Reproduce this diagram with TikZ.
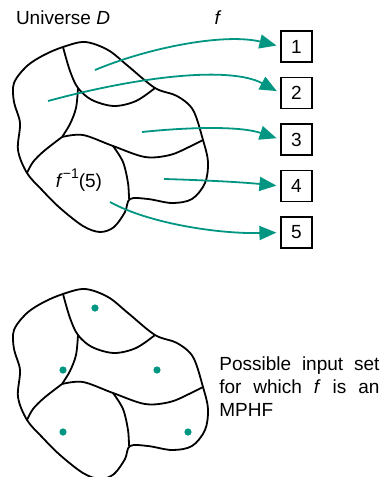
\documentclass[tikz,border=0pt]{standalone}
\usepackage{fontspec}
\setmainfont{Liberation Sans}
\usetikzlibrary{arrows.meta}
\definecolor{teal}{RGB}{0,150,130}
\begin{document}
\begin{tikzpicture}[x=0.5pt,y=-0.5pt,
  every node/.style={font=\fontsize{9.5}{11.7}\selectfont},
  outline/.style={line width=0.9pt,line join=round},
  maparrow/.style={teal,line width=0.9pt,-{Triangle[length=8.5pt,width=7pt]},shorten >=2pt},
  valbox/.style={draw,line width=0.6pt,minimum size=15.5pt,inner sep=0pt},
  keydot/.style={circle,fill=teal,inner sep=0pt,minimum size=3.6pt}]
\useasboundingbox (0,0) rectangle (383,477);
\newcommand{\blobshape}{%
  \draw[outline] plot[smooth cycle,tension=0.55] coordinates {(63,47) (85,42) (108,50) (128,66) (155,88) (177,96) (193,110) (203,140) (208,162) (205,183) (192,199) (172,203) (148,199) (130,199) (125,212) (114,227) (100,232) (83,226) (60,208) (42,190) (27,173) (18,150) (20,123) (14,102) (14,83) (27,66) (44,55)};
  \draw[outline] plot[smooth,tension=0.55] coordinates {(63,47) (70,71) (78,88) (92,100) (114,106) (136,101) (155,88)};
  \draw[outline] plot[smooth,tension=0.55] coordinates {(78,88) (76,108) (70,124) (62,137)};
  \draw[outline] plot[smooth,tension=0.55] coordinates {(62,137) (83,135) (113,146) (145,157) (170,155) (189,147) (203,140)};
  \draw[outline] plot[smooth,tension=0.55] coordinates {(113,146) (123,162) (128,183) (129,199)};
  \draw[outline] plot[smooth,tension=0.55] coordinates {(62,137) (44,151) (33,162) (27,173)};
}
% top blob
\blobshape
\node (univ) at (63,18) {Universe \textit{D}};
\node (fl) at (218,18) {\textit{f}};
\node (inv) at (79,180) {\textit{f}\raisebox{0.9ex}{\fontsize{7}{7}\selectfont −1}(5)};
\node[valbox] (b1) at (296.5,46.5) {1};
\node[valbox] (b2) at (296.5,93) {2};
\node[valbox] (b3) at (296.5,139.5) {3};
\node[valbox] (b4) at (296.5,186) {4};
\node[valbox] (b5) at (296.5,232.5) {5};
\coordinate (s1) at (95,70);
\coordinate (s2) at (48,101);
\coordinate (s3) at (142,132);
\coordinate (s4) at (164,179);
\coordinate (s5) at (110,202);
\draw[maparrow] (s1) .. controls (150,47) and (225,33) .. (b1.west);
\draw[maparrow] (s2) .. controls (140,76) and (230,66) .. (b2.west);
\draw[maparrow] (s3) .. controls (190,127) and (240,126) .. (b3.west);
\draw[maparrow] (s4) .. controls (200,180) and (240,182) .. (b4.west);
\draw[maparrow] (s5) .. controls (150,224) and (220,234) .. (b5.west);
% bottom blob
\begin{scope}[shift={(0,247)}]
\blobshape
\end{scope}
\node[keydot] (k1) at (95,308) {};
\node[keydot] (k2) at (63,370) {};
\node[keydot] (k3) at (157,370) {};
\node[keydot] (k4) at (63,432) {};
\node[keydot] (k5) at (188,432) {};
\node[anchor=north west,inner sep=0pt,align=left] (cap) at (219,356)
  {\makebox[80pt][l]{Possible\hfill input\hfill set}\\\makebox[80pt][l]{for\hfill which\hfill \textit{f}\hfill is\hfill an}\\MPHF};
\end{tikzpicture}
\end{document}
